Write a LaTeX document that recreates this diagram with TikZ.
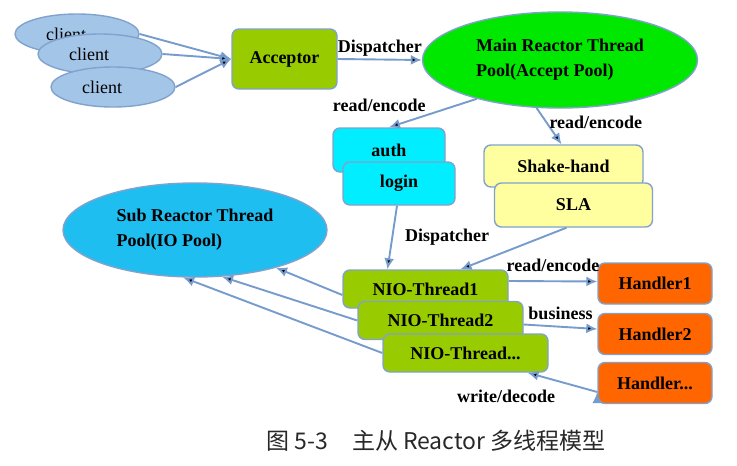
\documentclass[tikz,border=0pt]{standalone}
\usepackage{fontspec}
\setmainfont{Liberation Serif}
\newfontfamily\cjk{Noto Sans CJK SC}
\usetikzlibrary{arrows.meta,positioning,shapes.geometric}

\definecolor{clientblue}{RGB}{163,198,232}
\definecolor{edgeline}{RGB}{128,162,204}
\definecolor{linkblue}{RGB}{118,156,206}
\definecolor{acceptgreen}{RGB}{153,204,0}
\definecolor{maingreen}{RGB}{0,232,0}
\definecolor{authcyan}{RGB}{0,238,255}
\definecolor{shakeyellow}{RGB}{255,255,160}
\definecolor{subblue}{RGB}{30,190,240}
\definecolor{handlerorange}{RGB}{255,102,0}
\definecolor{captiongray}{RGB}{40,40,40}

\begin{document}
\begin{tikzpicture} [x=1pt,y=-1pt,->,>={Latex[length=11pt,width=10pt]},
    font=\fontsize{18}{25}\selectfont\bfseries,
    box/.style={draw=edgeline,line width=1.4pt,rounded corners=7pt,inner sep=0pt},
    pool/.style={ellipse,draw=edgeline,line width=1.4pt,align=left,inner sep=0pt},
    client/.style={ellipse,draw=edgeline,line width=1.4pt,fill=clientblue,
      minimum width=124pt,minimum height=40pt,inner sep=0pt,
      font=\fontsize{18}{22}\selectfont\mdseries},
    nio/.style={box,fill=acceptgreen,minimum width=165pt,minimum height=38pt},
    handler/.style={box,fill=handlerorange,minimum width=114pt,minimum height=41pt},
    link/.style={draw=linkblue,line width=1.9pt},
    lbl/.style={inner sep=2pt,text=black}]

  \fill[white] (0,0) rectangle (737,466);
  \useasboundingbox (0,0) rectangle (737,466);

  \node[client] (c1) at (77,34) {client\kern22pt};
  \node[client] (c2) at (100,54) {client\kern22pt};
  \node[client] (c3) at (113,87) {client\kern22pt};

  \node[box,fill=acceptgreen,minimum width=105pt,minimum height=60pt] (acc) at (284.5,59) {Acceptor};
  \node[pool,fill=maingreen,minimum width=275pt,minimum height=96pt] (main) at (560,60)
    {Main Reactor Thread\\Pool(Accept Pool)};

  \node[box,fill=authcyan,minimum width=112pt,minimum height=44pt] (auth) at (389,150) {auth};
  \node[box,fill=authcyan,minimum width=112pt,minimum height=43pt] (login)
    [node distance=33.5pt,below of=auth,xshift=10pt] {login};

  \node[box,fill=shakeyellow,minimum width=159pt,minimum height=42pt] (shake) at (563.5,166) {Shake-hand};
  \node[box,fill=shakeyellow,minimum width=158pt,minimum height=44pt] (sla)
    [node distance=39pt,below of=shake,xshift=10pt] {SLA};

  \node[pool,fill=subblue,minimum width=264pt,minimum height=94pt] (sub) at (195,230)
    {Sub Reactor Thread\\Pool(IO Pool)};

  \node[nio] (nio1) at (425.5,289) {NIO-Thread1};
  \node[nio] (nio2) [node distance=31.5pt,below of=nio1,xshift=15pt] {NIO-Thread2};
  \node[nio] (nio3) [node distance=32.5pt,below of=nio2,xshift=25pt] {NIO-Thread...};

  \node[handler] (h1) at (655,283.5) {Handler1};
  \node[handler] (h2) [node distance=50.5pt,below of=h1] {Handler2};
  \node[handler] (h3) [node distance=49pt,below of=h2] {Handler...};

  \path[link,every node/.style={lbl}]
    (c1.east) edge (acc.west)
    (c2.east) edge (acc.west)
    (c3.east) edge (acc.west)
    (acc.east) edge node [above] {Dispatcher} (main.west)
    (main.205) edge node [pos=0.55,above left] {read/encode} (auth.north)
    (main.244) edge node [pos=0.4,right] {read/encode} ([xshift=-2pt]shake.north)
    ([xshift=-2pt]login.south) edge node [right=10pt] {Dispatcher} ([xshift=-38pt]nio1.north)
    ([xshift=-7pt]sla.south) edge ([xshift=35pt]nio1.north)
    ([yshift=-6pt]nio1.west) edge (sub.335)
    (nio2.west) edge (sub.300)
    (nio3.west) edge (sub.256)
    ([yshift=8pt]nio1.east) edge node [above=7pt] {read/encode} ([yshift=2pt]h1.west)
    ([yshift=-4pt]nio2.east) edge node [above=4pt] {business} ([yshift=5pt]h2.west)
    ([yshift=-9pt]h3.west) edge node [below left=6pt] {write/decode} ([xshift=62pt]nio3.south);

  \node[font=\cjk\fontsize{23}{26}\selectfont\mdseries,text=captiongray] (cap) at (436,441)
    {图 5-3\hspace{24pt}主从 Reactor 多线程模型};

\end{tikzpicture}
\end{document}
